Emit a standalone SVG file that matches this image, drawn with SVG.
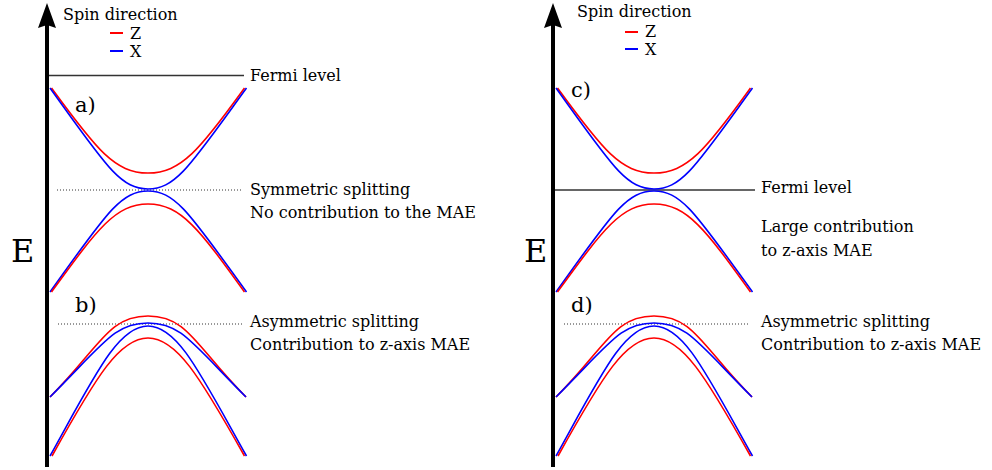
<svg xmlns="http://www.w3.org/2000/svg" xmlns:xlink="http://www.w3.org/1999/xlink" width="992" height="470" viewBox="0 0 992 470">
<style>
text{font-family:"DejaVu Serif","Liberation Serif",serif;fill:#000}
.t{font-size:16px}
.lab{font-size:21px}
.big{font-size:32px}
.r{fill:none;stroke:#ff0000;stroke-width:1.6}
.b{fill:none;stroke:#0000ff;stroke-width:1.6}
.ax{stroke:#000;stroke-width:4;fill:none}
.fl{stroke:#333;stroke-width:1.3;fill:none}
.dot{stroke:#333;stroke-width:1;stroke-dasharray:1 2;fill:none}
</style>
<defs>
<g id="bandsTop">
<path class="r" d="M51.5,88 C96.5,149.7 115,173 148,173 S200,149.7 244.5,88"/>
<path class="b" d="M50,88 C105,164.5 120,189 148,189 S191,164.5 246.5,88"/>
<path class="b" d="M50,292 C105,215.5 120,191 148,191 S191,215.5 246.5,292"/>
<path class="r" d="M51.5,292 C96.5,230.3 115,204 148,204 S200,230.3 244.5,292"/>
</g>
<g id="bandsBot">
<path class="r" d="M50,397 C100,347 108,316 148,316 S196,347 246,397"/>
<path class="b" d="M50,397 C105,342 115,323 148,323 S191,342 246,397"/>
<path class="b" d="M50,456 C95,375 118,326 148,326 S201,375 246.5,456"/>
<path class="r" d="M52,456 C97,375 120,338 148,338 S199,375 244.5,456"/>
</g>
</defs>

<g id="axis-left">
<line class="ax" x1="47" y1="467" x2="47" y2="22"/>
<path d="M47,3 L56,28 L47,25 L38,28 Z" fill="#000"/>
<text class="big" x="11" y="262">E</text>
</g>
<g id="axis-right">
<line class="ax" x1="553" y1="467" x2="553" y2="22"/>
<path d="M553,3 L562,28 L553,25 L544,28 Z" fill="#000"/>
<text class="big" x="524" y="262">E</text>
</g>

<g id="legend-left">
<text class="t" x="63" y="20">Spin direction</text>
<line x1="110" y1="33" x2="123" y2="33" stroke="#ff0000" stroke-width="2"/>
<text class="t" x="130" y="39">Z</text>
<line x1="110" y1="51" x2="123" y2="51" stroke="#0000ff" stroke-width="2"/>
<text class="t" x="130" y="57">X</text>
</g>
<g id="legend-right">
<text class="t" x="577" y="17">Spin direction</text>
<line x1="625" y1="32" x2="638" y2="32" stroke="#ff0000" stroke-width="2"/>
<text class="t" x="645" y="37">Z</text>
<line x1="625" y1="49" x2="638" y2="49" stroke="#0000ff" stroke-width="2"/>
<text class="t" x="645" y="55">X</text>
</g>

<g id="panel-a">
<line class="fl" x1="49" y1="75.5" x2="244" y2="75.5"/>
<text class="t" x="250" y="81">Fermi level</text>
<line class="dot" x1="57" y1="190" x2="243" y2="190"/>
<use xlink:href="#bandsTop"/>
<text class="lab" x="75" y="112">a)</text>
<text class="t" x="250" y="195">Symmetric splitting</text>
<text class="t" x="250" y="218">No contribution to the MAE</text>
</g>

<g id="panel-b">
<line class="dot" x1="58" y1="324" x2="243" y2="324"/>
<use xlink:href="#bandsBot"/>
<text class="lab" x="75" y="312">b)</text>
<text class="t" x="250" y="327">Asymmetric splitting</text>
<text class="t" x="250" y="350">Contribution to z-axis MAE</text>
</g>

<g id="panel-c">
<line class="fl" x1="555" y1="190" x2="755" y2="190"/>
<use xlink:href="#bandsTop" transform="translate(506,0)"/>
<text class="lab" x="571" y="97">c)</text>
<text class="t" x="761" y="193">Fermi level</text>
<text class="t" x="761" y="232">Large contribution</text>
<text class="t" x="761" y="256">to z-axis MAE</text>
</g>

<g id="panel-d">
<line class="dot" x1="564" y1="324" x2="750" y2="324"/>
<use xlink:href="#bandsBot" transform="translate(506,0)"/>
<text class="lab" x="571" y="312">d)</text>
<text class="t" x="761" y="327">Asymmetric splitting</text>
<text class="t" x="761" y="350">Contribution to z-axis MAE</text>
</g>
</svg>
